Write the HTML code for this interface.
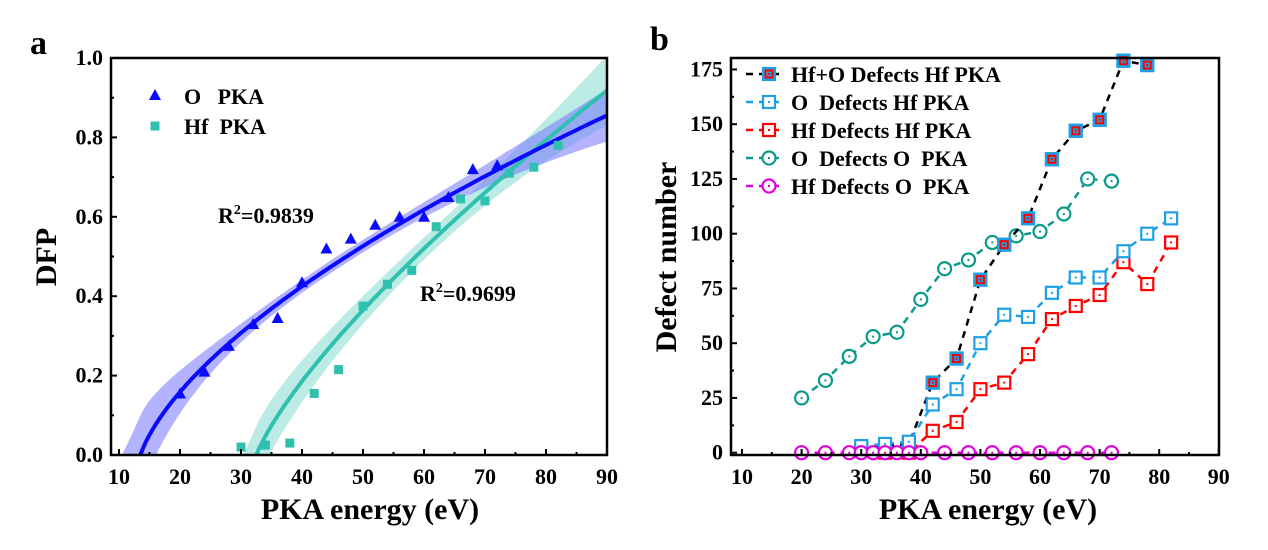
<!DOCTYPE html>
<html><head><meta charset="utf-8"><style>
html,body{margin:0;padding:0;background:#fff;overflow:hidden;width:1268px;height:550px;}
svg{display:block;font-family:"Liberation Serif",serif;font-weight:bold;}
</style></head><body>
<svg id="s" width="1268" height="550" viewBox="0 0 1268 550" xmlns="http://www.w3.org/2000/svg"></svg>
<script>
const S=document.getElementById('s');let h='';
h+='<defs><clipPath id="ca"><rect x="111" y="58" width="496" height="397"/></clipPath><clipPath id="cb"><rect x="731" y="58" width="488" height="397"/></clipPath></defs>';
const ax=x=>119+(x-10)*6.1, ay=y=>455-y*397;
function mk(a,r,p,e){const s=a*p*Math.pow(e,p-1);return function(x){const d=x-r;return d>=0?a*(Math.pow(d+e,p)-Math.pow(e,p)):s*d;};}
const fb=mk(0.0611,13.5,0.62,0.7), fg=mk(0.0458,32.5,0.747,0.7);
function band(f,hw,col,op,x0){let up=[],dn=[];for(let x=x0;x<=90.01;x+=0.5){const y=f(x),w=hw(x);up.push(ax(x).toFixed(1)+','+ay(y+w).toFixed(1));dn.unshift(ax(x).toFixed(1)+','+ay(y-w).toFixed(1));}
return '<polygon clip-path="url(#ca)" points="'+up.concat(dn).join(' ')+'" fill="'+col+'" fill-opacity="'+op+'"/>';}
function curve(f,r,col){let pts=[];for(let x=r;x<=90.01;x+=0.5)pts.push(ax(x).toFixed(1)+','+ay(f(x)).toFixed(1));return '<polyline clip-path="url(#ca)" points="'+pts.join(' ')+'" fill="none" stroke="'+col+'" stroke-width="4"/>';}
h+=band(fg,x=>x<62?0.028+0.04*Math.pow((x-62)/28,2):0.028+0.06*Math.pow((x-62)/28,2),'#8fded4',0.6,26);
h+=band(fb,x=>x<50?0.016+0.12*Math.pow((x-50)/40,4):0.016+0.05*Math.pow((x-50)/40,2),'#7575ff',0.55,8);
h+=curve(fg,32.5,'#2fc0b0');
h+=curve(fb,13.5,'#0a0aff');
const O=[[20,.155],[24,.21],[28,.275],[32,.33],[36,.345],[40,.435],[44,.52],[48,.545],[52,.58],[56,.6],[60,.6],[64,.65],[68,.72],[72,.73]];
const Hf=[[30,.02],[34,.025],[38,.03],[42,.155],[46,.215],[50,.375],[54,.43],[58,.465],[62,.575],[66,.645],[70,.64],[74,.71],[78,.725],[82,.78]];
O.forEach(([x,y])=>{const X=ax(x),Y=ay(y);h+=`<polygon points="${X},${Y-6} ${X-6},${Y+5} ${X+6},${Y+5}" fill="#0a0aff"/>`;});
Hf.forEach(([x,y])=>{const X=ax(x),Y=ay(y);h+=`<rect x="${X-4.5}" y="${Y-4.5}" width="9" height="9" fill="#2fc0b0"/>`;});
h+='<rect x="111" y="58" width="496" height="397" fill="none" stroke="#000" stroke-width="2.5"/>';
for(let v=10;v<=90;v+=5){const X=ax(v);h+=`<line x1="${X}" y1="455" x2="${X}" y2="${455-(v%10?3:6)}" stroke="#000" stroke-width="2"/>`;if(v%10==0)h+=`<text x="${X}" y="484" font-size="22" text-anchor="middle">${v}</text>`;}
for(let i=0;i<=10;i++){const Y=ay(i/10);h+=`<line x1="111" y1="${Y}" x2="${111+(i%2?3:6)}" y2="${Y}" stroke="#000" stroke-width="2"/>`;if(i%2==0)h+=`<text x="103" y="${Y+7}" font-size="22" text-anchor="end">${(i/10).toFixed(1)}</text>`;}
h+='<text x="370" y="519" font-size="30" text-anchor="middle">PKA energy (eV)</text>';
h+='<text transform="translate(56,257) rotate(-90)" font-size="30" text-anchor="middle">DFP</text>';
h+='<text x="30" y="54" font-size="34">a</text>';
h+='<polygon points="155,89 149,100 161,100" fill="#0a0aff"/><text x="184" y="104" font-size="22">O&#160;&#160;&#160;PKA</text>';
h+='<rect x="150.5" y="121.5" width="9" height="9" fill="#2fc0b0"/><text x="184" y="134" font-size="22">Hf&#160;&#160;PKA</text>';
h+='<text x="218" y="223" font-size="22">R<tspan font-size="14" dy="-9">2</tspan><tspan dy="9">=0.9839</tspan></text>';
h+='<text x="420" y="301" font-size="22">R<tspan font-size="14" dy="-9">2</tspan><tspan dy="9">=0.9699</tspan></text>';
// ---------- Panel b ----------
const bx=x=>742+(x-10)*5.96, by=y=>452.7-y*2.19;
function sq(X,Y,c,fill){let s=`<rect x="${X-6}" y="${Y-6}" width="12" height="12" fill="${fill||'#fff'}" stroke="${c}" stroke-width="2.2"/>`;
 if(fill) s+=`<rect x="${X-3.5}" y="${Y-3.5}" width="7" height="7" fill="none" stroke="#f00" stroke-width="2"/>`;
 s+=`<rect x="${X-1}" y="${Y-1}" width="2" height="2" fill="${fill?'#f00':c}"/>`;return s;}
function ci(X,Y,c){return `<circle cx="${X}" cy="${Y}" r="6.5" fill="#fff" stroke="${c}" stroke-width="2.2"/><rect x="${X-1}" y="${Y-1}" width="2" height="2" fill="${c}"/>`;}
function series(d,c,m,fill,mc){let pts=d.map(([x,y])=>bx(x).toFixed(1)+','+by(y).toFixed(1)).join(' ');
 let s=`<polyline clip-path="url(#cb)" points="${pts}" fill="none" stroke="${c}" stroke-width="2.5" stroke-dasharray="7,6"/>`;
 d.forEach(([x,y])=>{s+=m=='s'?sq(bx(x),by(y),mc||c,fill):ci(bx(x),by(y),c);});return s;}
const mag=[];[20,24,28,30,32,34,36,38,40,44,48,52,56,60,64,68,72].forEach(x=>mag.push([x,0]));
h+=series([[20,25],[24,33],[28,44],[32,53],[36,55],[40,70],[44,84],[48,88],[52,96],[56,99],[60,101],[64,109],[68,125],[72,124]],'#0a9a8a','c');
h+=series([[30,3],[34,3],[38,4],[42,32],[46,43],[50,79],[54,95],[58,107],[62,134],[66,147],[70,152],[74,179],[78,177]],'#000','s','#1ea0e6','#1ea0e6');
h+=series([[30,1],[34,0],[38,0],[42,10],[46,14],[50,29],[54,32],[58,45],[62,61],[66,67],[70,72],[74,87],[78,77],[82,96]],'#ff0000','s');
h+=series([[30,3],[34,4],[38,5],[42,22],[46,29],[50,50],[54,63],[58,62],[62,73],[66,80],[70,80],[74,92],[78,100],[82,107]],'#1ea0e6','s');
[[42,32],[46,43],[50,79],[54,95],[58,107],[62,134],[66,147],[70,152],[74,179],[78,177]].forEach(([x,y])=>{h+=sq(bx(x),by(y),'#1ea0e6','#1ea0e6');});
h+=series(mag,'#e000e0','c');
h+='<rect x="731" y="58" width="488" height="397" fill="none" stroke="#000" stroke-width="2.5"/>';
for(let v=10;v<=90;v+=5){const X=bx(v);h+=`<line x1="${X}" y1="455" x2="${X}" y2="${455-(v%10?3:6)}" stroke="#000" stroke-width="2"/>`;if(v%10==0)h+=`<text x="${X}" y="484" font-size="22" text-anchor="middle">${v}</text>`;}
for(let v=0;v<=175;v+=12.5){const Y=by(v);h+=`<line x1="731" y1="${Y}" x2="${731+(v%25?3:6)}" y2="${Y}" stroke="#000" stroke-width="2"/>`;if(v%25==0)h+=`<text x="723" y="${Y+7}" font-size="22" text-anchor="end">${v}</text>`;}
h+='<text x="988" y="519" font-size="30" text-anchor="middle">PKA energy (eV)</text>';
h+='<text transform="translate(676,257) rotate(-90)" font-size="30" text-anchor="middle">Defect number</text>';
h+='<text x="650" y="50" font-size="34">b</text>';
const L=[['Hf+O Defects Hf PKA','#000','s',1],['O  Defects Hf PKA','#1ea0e6','s'],['Hf Defects Hf PKA','#ff0000','s'],['O  Defects O  PKA','#0a9a8a','c'],['Hf Defects O  PKA','#e000e0','c']];
L.forEach((l,i)=>{const Y=74+i*28;h+=`<line x1="746" y1="${Y}" x2="784" y2="${Y}" stroke="${l[1]}" stroke-width="2.5" stroke-dasharray="7,6"/>`;
 h+=l[2]=='s'?(l[3]?sq(769,Y,'#1ea0e6','#1ea0e6'):sq(769,Y,l[1])):ci(769,Y,l[1]);
 h+=`<text x="791" y="${Y+8}" font-size="22">${l[0].replace(/ /g,'&#160;')}</text>`;});
S.innerHTML=h;
</script>
</body></html>
